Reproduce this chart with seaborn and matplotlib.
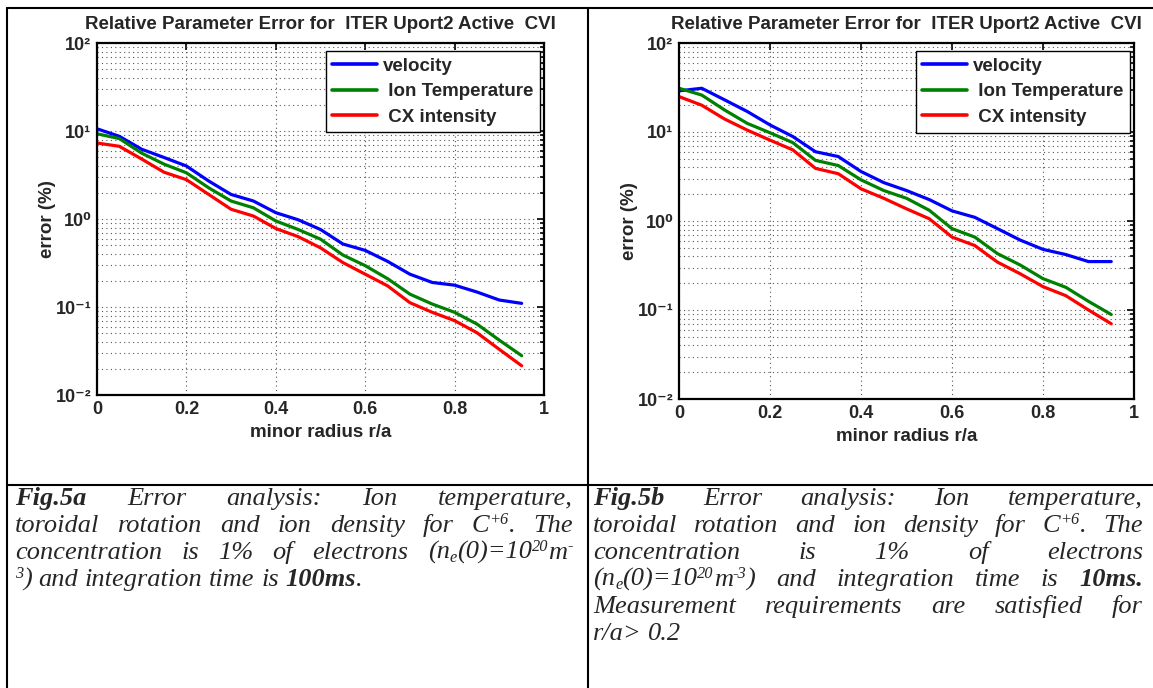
import re
import matplotlib
matplotlib.use('Agg')
import matplotlib.pyplot as plt
from matplotlib.lines import Line2D
from matplotlib.ticker import NullFormatter, LogLocator
import numpy as np
import pandas as pd
import seaborn as sns

# ---- data ----
r = [0.0, 0.05, 0.10, 0.15, 0.20, 0.25, 0.30, 0.35, 0.40, 0.45,
     0.50, 0.55, 0.60, 0.65, 0.70, 0.75, 0.80, 0.85, 0.90, 0.95]

a_velocity = [10.6, 8.7, 6.2, 5.0, 4.0, 2.7, 1.9, 1.6, 1.18, 0.98,
              0.76, 0.52, 0.44, 0.33, 0.236, 0.19, 0.177, 0.148, 0.12, 0.11]
a_ion_temp = [9.3, 8.2, 5.6, 4.2, 3.35, 2.26, 1.6, 1.34, 0.95, 0.76,
              0.59, 0.39, 0.295, 0.21, 0.14, 0.108, 0.087, 0.064, 0.042, 0.028]
a_cx = [7.3, 6.7, 4.8, 3.4, 2.8, 1.9, 1.29, 1.08, 0.78, 0.63,
        0.47, 0.32, 0.236, 0.174, 0.112, 0.087, 0.07, 0.051, 0.033, 0.0215]

b_velocity = [29, 31, 23, 17, 12, 8.9, 6.0, 5.3, 3.6, 2.7,
              2.2, 1.74, 1.3, 1.1, 0.82, 0.61, 0.48, 0.42, 0.35, 0.35]
b_ion_temp = [31, 26, 17.7, 12.5, 9.8, 7.6, 4.8, 4.2, 2.9, 2.2,
              1.8, 1.32, 0.82, 0.66, 0.43, 0.32, 0.225, 0.18, 0.125, 0.089]
b_cx = [25, 20, 14, 10.5, 8.1, 6.3, 3.9, 3.4, 2.3, 1.8,
        1.37, 1.06, 0.66, 0.53, 0.345, 0.255, 0.183, 0.145, 0.10, 0.07]

series_names = ['velocity', ' Ion Temperature', ' CX intensity']
series_colors = ['#0000ff', '#008000', '#ff0000']

title = 'Relative Parameter Error for  ITER Uport2 Active  CVI'
xlabel = 'minor radius r/a'
ylabel = 'error (%)'
xticks = [0, 0.2, 0.4, 0.6, 0.8, 1]
xticklabels = ['0', '0.2', '0.4', '0.6', '0.8', '1']
yticks = [1e-2, 1e-1, 1, 10, 100]
yticklabels = ['10\u207b\u00b2', '10\u207b\u00b9', '10\u2070', '10\u00b9', '10\u00b2']

# **bold**, ^{superscript}, _{subscript}
caption_a = [
    '**Fig.5a** Error analysis: Ion temperature,',
    'toroidal rotation and ion density for C^{+6}. The',
    'concentration is 1% of electrons (n_{e}(0)=10^{20}m^{-}',
    '^{3}) and integration time is **100ms**.',
]
caption_b = [
    '**Fig.5b** Error analysis: Ion temperature,',
    'toroidal rotation and ion density for C^{+6}. The',
    'concentration is 1% of electrons',
    '(n_{e}(0)=10^{20}m^{-3}) and integration time is **10ms.**',
    'Measurement requirements are satisfied for',
    'r/a> 0.2',
]

W, H = 1153, 688

sns.set_style('white')
plt.rcParams['font.family'] = ['Liberation Sans', 'DejaVu Sans']

fig = plt.figure(figsize=(W / 100, H / 100), dpi=100)


def px_axes(x0, y0, x1, y1):
    return fig.add_axes([x0 / W, 1 - y1 / H, (x1 - x0) / W, (y1 - y0) / H])


def draw_chart(ax, vel, ti, cx, width, height):
    df = pd.DataFrame({
        'r': r * 3,
        'err': vel + ti + cx,
        'name': [series_names[0]] * len(r) + [series_names[1]] * len(r) + [series_names[2]] * len(r),
    })
    sns.lineplot(data=df, x='r', y='err', hue='name', hue_order=series_names,
                 palette=series_colors, linewidth=2.3, ax=ax)
    ax.set_yscale('log')
    ax.set_xlim(0, 1)
    ax.set_ylim(1e-2, 1e2)
    ax.set_xticks(xticks)
    ax.set_xticklabels(xticklabels, fontsize=13, fontweight='bold')
    ax.set_yticks(yticks)
    ax.set_yticklabels(yticklabels, fontsize=13, fontweight='bold')
    ax.yaxis.set_minor_locator(LogLocator(base=10, subs=np.arange(2, 10)))
    ax.yaxis.set_minor_formatter(NullFormatter())
    ax.tick_params(which='both', direction='in', top=True, right=True,
                   width=1.2, color='black')
    ax.tick_params(which='major', length=5, pad=4)
    ax.tick_params(which='minor', length=3)
    ax.grid(True, which='major', axis='x', linestyle=(0, (1, 3)), color='#555555', linewidth=0.8)
    ax.grid(True, which='both', axis='y', linestyle=(0, (1, 3)), color='#555555', linewidth=0.8)
    for s in ax.spines.values():
        s.set_linewidth(1.6)
        s.set_color('black')
    ax.set_title(title, fontsize=13.5, fontweight='bold', pad=10)
    ax.set_xlabel(xlabel, fontsize=13.5, fontweight='bold')
    ax.set_ylabel(ylabel, fontsize=13.5, fontweight='bold')
    ax.xaxis.set_label_coords(0.5, -29 / height)
    ax.yaxis.set_label_coords(-41 / width, 0.5)
    leg = ax.legend(loc='upper right', bbox_to_anchor=(0.991, 0.977), borderaxespad=0,
                    prop={'size': 13.5, 'weight': 'bold'}, frameon=True, fancybox=False,
                    framealpha=1, edgecolor='black', handlelength=2.4,
                    labelspacing=0.45, handletextpad=0.3, borderpad=0.35)
    leg.get_frame().set_linewidth(1.0)
    for h in leg.get_lines():
        h.set_linewidth(2.6)


ax_a = px_axes(97, 43, 544, 395)
draw_chart(ax_a, a_velocity, a_ion_temp, a_cx, 447, 352)
ax_b = px_axes(679, 43, 1134, 399)
draw_chart(ax_b, b_velocity, b_ion_temp, b_cx, 455, 356)

# ---- table borders ----
for xs, ys in [((7, 1153), (8, 8)), ((7, 1153), (485, 485)),
               ((7, 7), (8, 688)), ((588, 588), (8, 688))]:
    fig.add_artist(Line2D([x / W for x in xs], [1 - y / H for y in ys],
                          transform=fig.transFigure, color='black', linewidth=1.5))

# ---- captions (justified like the word processor) ----
fig.canvas.draw()
renderer = fig.canvas.get_renderer()
cap_size = 19
em = cap_size * 100 / 72


def put_line(text, x0, x1, y, justify):
    groups = []
    for w in text.split(' '):
        parts = []
        for seg in [s for s in re.split(r'(\*\*.*?\*\*|\^\{.*?\}|_\{.*?\})', w) if s]:
            size, weight, shift = cap_size, 'normal', 0
            if seg.startswith('**'):
                seg, weight = seg[2:-2], 'bold'
            elif seg.startswith('^{'):
                seg, size, shift = seg[2:-1], cap_size * 0.62, 0.32 * em
            elif seg.startswith('_{'):
                seg, size, shift = seg[2:-1], cap_size * 0.62, -0.12 * em
            t = fig.text(0, 1 - (y - shift) / H, seg, fontsize=size, family='Liberation Serif',
                         style='italic', weight=weight, va='baseline', ha='left')
            parts.append(t)
        widths = [p.get_window_extent(renderer).width for p in parts]
        groups.append((parts, widths))
    total = sum(sum(g[1]) for g in groups)
    gap = em * 0.25
    if justify and len(groups) > 1:
        gap = max((x1 - x0 - total) / (len(groups) - 1), 2)
    x = x0
    for parts, widths in groups:
        for p, w in zip(parts, widths):
            p.set_x(x / W)
            x += w
        x += gap


def put_caption(lines, x0, x1, y0, n_justified):
    for i, line in enumerate(lines):
        put_line(line, x0, x1, y0 + 27 * i, i < n_justified)


put_caption(caption_a, 15, 573, 505, 3)
put_caption(caption_b, 593, 1143, 505, 5)

fig.savefig('out.png', dpi=100)
